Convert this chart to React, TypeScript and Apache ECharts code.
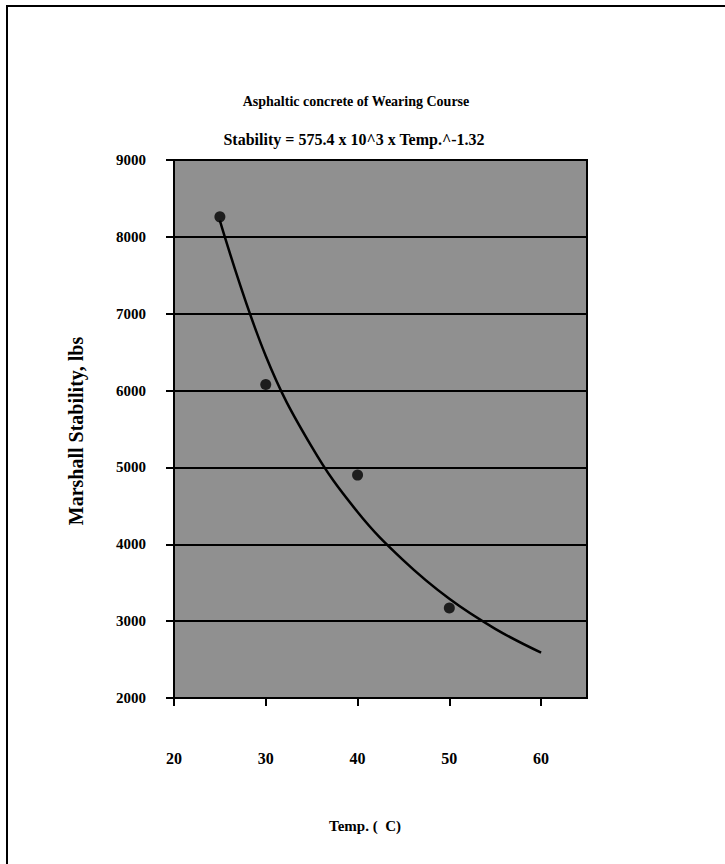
import React, { useEffect, useRef } from "react";
import * as echarts from "echarts";

// Measured Marshall stability at each test temperature
const temperatures = [25, 30, 40, 50];
const stabilities = [8260, 6080, 4900, 3170];

// Power-law trend line read along its length
const fitTemps = [25, 30, 35, 40, 45, 50, 55, 60];
const fitStabilities = [8210, 6450, 5270, 4420, 3790, 3290, 2900, 2590];

const xTickLabels = ["20", "30", "40", "50", "60"];

const titleText = "Asphaltic concrete of Wearing Course";
const equationText = "Stability = 575.4 x 10^3 x Temp.^-1.32";
const yName = "Marshall Stability, lbs";
const xName = "Temp. (  C)";

const FONT = '"Liberation Serif", "Times New Roman", serif';

export default function App() {
  const ref = useRef<HTMLDivElement>(null);

  useEffect(() => {
    if (!ref.current) return;
    const chart = echarts.init(ref.current, undefined, { renderer: "svg" });
    const textStyle = { fontFamily: FONT, fontWeight: "bold" as const, fill: "#000" };

    chart.setOption({
      animation: false,
      backgroundColor: "#fff",
      grid: {
        left: 174,
        right: 138,
        top: 160,
        bottom: 166,
        show: true,
        backgroundColor: "#909090",
        borderColor: "#000",
        borderWidth: 2,
      },
      xAxis: {
        type: "value",
        min: 20,
        max: 65,
        interval: 10,
        axisLine: { show: true, lineStyle: { color: "#000", width: 2 } },
        axisTick: { show: true, inside: false, length: 8, lineStyle: { color: "#000", width: 2 } },
        splitLine: { show: false },
        axisLabel: {
          margin: 52,
          fontFamily: FONT,
          fontWeight: "bold",
          fontSize: 16,
          color: "#000",
          showMaxLabel: false,
          formatter: (v: number) => (xTickLabels.includes(String(v)) ? String(v) : ""),
        },
      },
      yAxis: {
        type: "value",
        min: 2000,
        max: 9000,
        interval: 1000,
        axisLine: { show: true, lineStyle: { color: "#000", width: 2 } },
        axisTick: { show: true, inside: false, length: 8, lineStyle: { color: "#000", width: 2 } },
        splitLine: { show: true, lineStyle: { color: "#000", width: 2 } },
        axisLabel: {
          margin: 28,
          fontFamily: FONT,
          fontWeight: "bold",
          fontSize: 15,
          color: "#000",
          formatter: (v: number) => String(v),
        },
      },
      series: [
        {
          type: "line",
          data: fitTemps.map((t, i) => [t, fitStabilities[i]]),
          smooth: 0.4,
          showSymbol: false,
          lineStyle: { color: "#000", width: 2.5 },
          z: 2,
        },
        {
          type: "scatter",
          data: temperatures.map((t, i) => [t, stabilities[i]]),
          symbol: "circle",
          symbolSize: 11,
          itemStyle: { color: "#000" },
          z: 3,
        },
      ],
      graphic: [
        { type: "line", shape: { x1: 6, y1: 6, x2: 725, y2: 6 }, style: { stroke: "#000", lineWidth: 2 } },
        { type: "line", shape: { x1: 7, y1: 6, x2: 7, y2: 864 }, style: { stroke: "#000", lineWidth: 2 } },
        {
          type: "text",
          x: 356,
          y: 101,
          style: { ...textStyle, text: titleText, fontSize: 14, align: "center", verticalAlign: "middle" },
        },
        {
          type: "text",
          x: 354,
          y: 139,
          style: { ...textStyle, text: equationText, fontSize: 16, align: "center", verticalAlign: "middle" },
        },
        {
          type: "text",
          x: 76,
          y: 431,
          rotation: Math.PI / 2,
          style: { ...textStyle, text: yName, fontSize: 20, align: "center", verticalAlign: "middle" },
        },
        {
          type: "text",
          x: 365,
          y: 826,
          style: { ...textStyle, text: xName, fontSize: 15, align: "center", verticalAlign: "middle" },
        },
      ],
    });

    return () => chart.dispose();
  }, []);

  return <div ref={ref} style={{ width: 725, height: 864, position: "absolute", left: 0, top: 0 }} />;
}
